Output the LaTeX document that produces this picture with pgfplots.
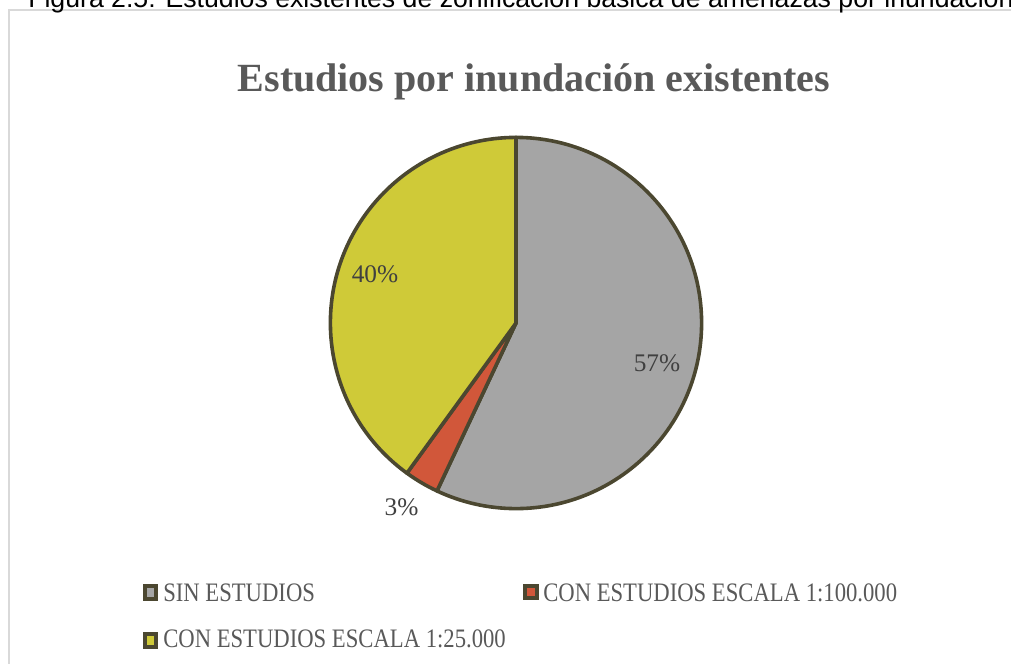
\documentclass[border=0pt]{standalone}
\usepackage{fontspec}
\setmainfont{Liberation Serif}
\newfontfamily\capfont{Liberation Sans}
\newfontfamily\legfont[FakeStretch=0.85]{Liberation Serif}
\usepackage{pgfplots}
\usepackage{pgfplotstable}
\pgfplotsset{compat=1.18}

\definecolor{sliceA}{HTML}{A5A5A5}
\definecolor{sliceB}{HTML}{D1573A}
\definecolor{sliceC}{HTML}{CFCA38}
\definecolor{edge}{HTML}{4B4730}
\definecolor{frame}{HTML}{D9D9D9}
\definecolor{titlec}{HTML}{595959}
\definecolor{labc}{HTML}{404040}

% porcentaje de municipios por tipo de estudio
\pgfplotstableread{
name value
sin 57
c100 3
c25 40
}\pietable

\begin{document}
\begin{tikzpicture}[x=0.75pt,y=-0.75pt]
\useasboundingbox (0,0) rectangle (1011,664);
\clip (0,0) rectangle (1011,664);

\pgfplotstablegetelem{0}{value}\of\pietable \let\va\pgfplotsretval
\pgfplotstablegetelem{1}{value}\of\pietable \let\vb\pgfplotsretval
\pgfplotstablegetelem{2}{value}\of\pietable \let\vc\pgfplotsretval
\pgfmathsetmacro\aA{90-3.6*\va}
\pgfmathsetmacro\aB{\aA-3.6*\vb}
\pgfmathsetmacro\aC{\aB-3.6*\vc}

% marco del grafico
\draw[frame, line width=1.5pt] (8.5,9.5) rectangle (1030,700);

% pie de figura (cortado arriba, como en el original)
\node[anchor=base west, inner sep=0, font=\capfont\fontsize{20}{24}\selectfont]
  at (28,7) {Figura 2.5: Estudios existentes de zonificación básica de amenazas por inundación};

% titulo
\node[anchor=base, inner sep=0, text=titlec, font=\bfseries\fontsize{30}{36}\selectfont]
  at (534,91) {Estudios por inundación existentes};

\coordinate (pc) at (516,323);
\begin{axis}[
  at={(pc)}, anchor=center,
  scale only axis,
  width=280.5pt, height=280.5pt,
  xmin=-1, xmax=1, ymin=-1, ymax=1,
  hide axis, clip=false,
]
  \filldraw[fill=sliceA, draw=edge, line width=2.7pt, line join=round]
    (axis cs:0,0) -- ++(90:139.2pt) arc[start angle=90, end angle=\aA, radius=139.2pt] -- cycle;
  \filldraw[fill=sliceB, draw=edge, line width=2.7pt, line join=round]
    (axis cs:0,0) -- ++(\aA:139.2pt) arc[start angle=\aA, end angle=\aB, radius=139.2pt] -- cycle;
  \filldraw[fill=sliceC, draw=edge, line width=2.7pt, line join=round]
    (axis cs:0,0) -- ++(\aB:139.2pt) arc[start angle=\aB, end angle=\aC, radius=139.2pt] -- cycle;

  \node[anchor=base, text=labc, font=\fontsize{19}{23}\selectfont] at (axis cs:0.754,-0.262) {57\%};
  \node[anchor=base, text=labc, font=\fontsize{19}{23}\selectfont] at (axis cs:-0.754,0.219) {40\%};
  \node[anchor=base, text=labc, font=\fontsize{19}{23}\selectfont] at (axis cs:-0.612,-1.032) {3\%};
\end{axis}

% leyenda
\filldraw[fill=sliceA, draw=edge, line width=3pt] (145,586) rectangle (156,599);
\node[anchor=base west, inner sep=0, text=titlec, font=\legfont\fontsize{20}{24}\selectfont]
  at (163,601) {SIN ESTUDIOS};
\filldraw[fill=sliceB, draw=edge, line width=3pt] (525,586) rectangle (537,598);
\node[anchor=base west, inner sep=0, text=titlec, font=\legfont\fontsize{20}{24}\selectfont]
  at (543,601) {CON ESTUDIOS ESCALA 1:100.000};
\filldraw[fill=sliceC, draw=edge, line width=3pt] (145,634) rectangle (156,647);
\node[anchor=base west, inner sep=0, text=titlec, font=\legfont\fontsize{20}{24}\selectfont]
  at (163,647) {CON ESTUDIOS ESCALA 1:25.000};
\end{tikzpicture}
\end{document}
